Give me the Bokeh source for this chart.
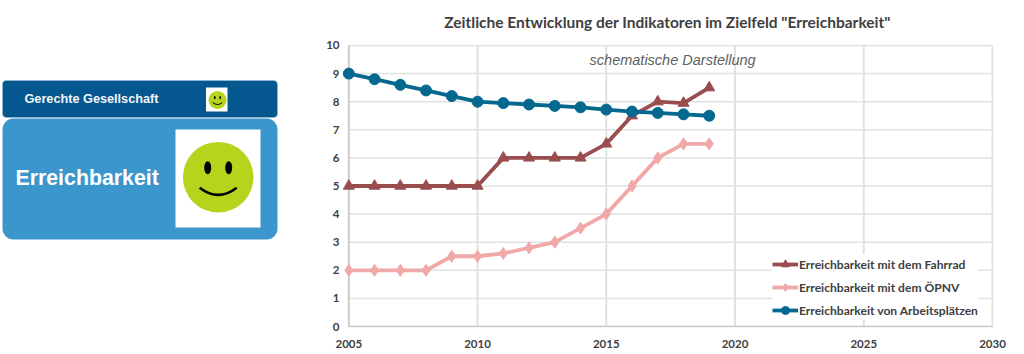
from bokeh.embed import file_html
from bokeh.resources import INLINE
from bokeh.plotting import figure
from bokeh.layouts import row
from bokeh.models import Range1d, FixedTicker, Legend, LegendItem, Label
from bokeh.core.properties import value

years = list(range(2005, 2020))
fahrrad = [5, 5, 5, 5, 5, 5, 6, 6, 6, 6, 6.5, 7.5, 8, 7.95, 8.5]
oepnv = [2, 2, 2, 2, 2.5, 2.5, 2.6, 2.8, 3, 3.5, 4, 5, 6, 6.5, 6.5]
arbeit = [9, 8.8, 8.6, 8.4, 8.2, 8, 7.95, 7.9, 7.85, 7.8, 7.72, 7.65, 7.6, 7.55, 7.5]
x_ticks = [2005, 2010, 2015, 2020, 2025, 2030]
y_ticks = list(range(0, 11))
series_names = ["Erreichbarkeit mit dem Fahrrad", "Erreichbarkeit mit dem ÖPNV", "Erreichbarkeit von Arbeitsplätzen"]
title_text = 'Zeitliche Entwicklung der Indikatoren im Zielfeld "Erreichbarkeit"'
note_text = "schematische Darstellung"
panel_top = "Gerechte Gesellschaft"
panel_main = "Erreichbarkeit"

FONT = "Lato"
GREY = "#404040"
GRID = "#e1e1e1"
AXIS = "#c8c8c8"
H = 350
TOP = 44
BOTTOM = H - 327
LEFT_W = 313

# left panel: frames of a row are aligned, so the y range spans the same pixels as the chart's frame
left = figure(width=LEFT_W, height=H, x_range=Range1d(0, LEFT_W), y_range=Range1d(327, 44),
              output_backend="svg", toolbar_location=None, min_border_left=0, min_border_right=0,
              min_border_top=TOP, min_border_bottom=BOTTOM, outline_line_color=None)
left.axis.visible = False
left.grid.visible = False

left.quad(left=[2], right=[277], top=[80], bottom=[117], fill_color="#04578f",
          line_color="#9cc0d8", line_width=0.5, border_radius=4)
left.quad(left=[2], right=[277], top=[118], bottom=[239], fill_color="#3b96cb",
          line_color=None, border_radius=11)
left.text(x=[24], y=[98], text=[panel_top], text_color="#f2f6fa", text_font=value("Liberation Sans"),
          text_font_style="bold", text_font_size="12.7px", text_align="left", text_baseline="middle")
left.text(x=[15], y=[177], text=[panel_main], text_color="white", text_font=value("Liberation Sans"),
          text_font_style="bold", text_font_size="21.3px", text_align="left", text_baseline="middle")


def smiley(x0, x1, y0, y1, cx, cy, r):
    k = r / 35.3
    left.quad(left=[x0], right=[x1], top=[y0], bottom=[y1], fill_color="white", line_color=None)
    left.circle(x=[cx], y=[cy], radius=r, fill_color="#b5d51c", line_color=None)
    left.ellipse(x=[cx - 10.5 * k, cx + 10.5 * k], y=[cy - 9.5 * k] * 2, width=7 * k, height=13 * k,
                 fill_color="black", line_color=None)
    left.quadratic(x0=[cx - 18.5 * k], y0=[cy + 10.5 * k], x1=[cx + 18.5 * k], y1=[cy + 10.5 * k],
                   cx=[cx], cy=[cy + 25 * k], line_color="black", line_width=max(1, 2.6 * k))


smiley(205.5, 227, 87, 111, 217, 99.5, 9)
smiley(175, 260, 129, 227, 217.7, 176.7, 35.3)

# chart: the ranges run a little past the axis limits so that the first markers are not cut off
p = figure(width=707, height=H, x_range=Range1d(2004.716, 2030.04), y_range=Range1d(-0.035, 10.035),
           output_backend="svg", toolbar_location=None,
           min_border_left=28, min_border_right=27, min_border_top=TOP, min_border_bottom=BOTTOM,
           outline_line_color=None)
p.title.text = title_text
p.title.text_font = FONT
p.title.text_font_style = "bold"
p.title.text_font_size = "15.5px"
p.title.text_color = GREY
p.title.align = "center"
p.title.vertical_align = "top"
p.title.standoff = 24
p.title.offset = 3

p.xaxis.ticker = FixedTicker(ticks=x_ticks)
p.yaxis.ticker = FixedTicker(ticks=y_ticks)
for ax in (p.xaxis[0], p.yaxis[0]):
    ax.major_tick_line_color = None
    ax.minor_tick_line_color = None
    ax.axis_line_color = None
    ax.major_label_text_font = FONT
    ax.major_label_text_font_style = "bold"
    ax.major_label_text_font_size = "11.5px"
    ax.major_label_text_color = GREY
p.xaxis.major_label_standoff = 6
p.yaxis.major_tick_out = 0
p.yaxis.major_label_standoff = 2
p.grid.visible = False

xmin, xmax = x_ticks[0], x_ticks[-1]
ymin, ymax = y_ticks[0], y_ticks[-1]
p.segment(x0=[xmin] * len(y_ticks), x1=[xmax] * len(y_ticks), y0=y_ticks, y1=y_ticks,
          line_color=GRID, line_width=1.5)
p.segment(x0=x_ticks, x1=x_ticks, y0=[ymin] * len(x_ticks), y1=[ymax] * len(x_ticks),
          line_color=GRID, line_width=2)
p.segment(x0=[xmin, xmin], x1=[xmax, xmin], y0=[ymin, ymin], y1=[ymin, ymax],
          line_color=AXIS, line_width=1.5)

colors = ["#9a4d4f", "#f0a9a8", "#05698f"]
markers = ["triangle", "diamond", "circle"]
sizes = [11, 12, 11]
items = []
for name, ys, c, m, s in zip(series_names, [fahrrad, oepnv, arbeit], colors, markers, sizes):
    ln = p.line(years, ys, line_color=c, line_width=3.8, line_join="round")
    sc = p.scatter(years, ys, marker=m, size=s, fill_color=c, line_color=c)
    items.append(LegendItem(label=name, renderers=[ln, sc]))

legend = Legend(items=items, location=(431, 7), orientation="vertical",
                background_fill_color="white", background_fill_alpha=1, border_line_color=None,
                label_text_font=FONT, label_text_font_style="bold", label_text_font_size="12.1px",
                label_text_color=GREY, glyph_width=26, glyph_height=20, label_height=20,
                label_standoff=1, spacing=3, padding=4, margin=0)
p.add_layout(legend, "center")

p.add_layout(Label(x=2020.8, y=9.49, text=note_text, text_font="Liberation Sans",
                   text_font_style="italic", text_font_size="14.5px", text_color="#606060",
                   text_align="right", text_baseline="middle"))

open("out.html", "w").write(file_html(row(left, p, spacing=0), INLINE))
